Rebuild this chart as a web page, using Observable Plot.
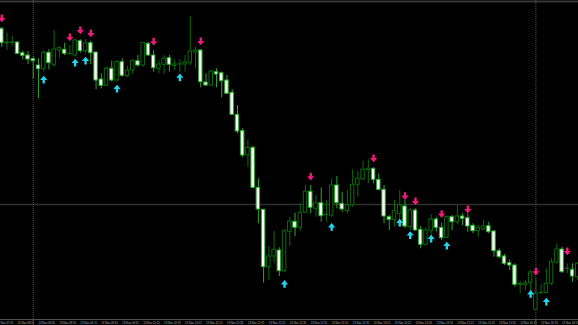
<!DOCTYPE html>
<html>
<head>
<meta charset="utf-8">
<script src="https://cdn.jsdelivr.net/npm/d3@7"></script>
<script src="https://cdn.jsdelivr.net/npm/@observablehq/plot@0.6"></script>
<style>
  html, body { margin: 0; padding: 0; background: #000; overflow: hidden; }
  #chart svg { display: block; }
</style>
</head>
<body>
<div id="chart"></div>
<script>
// OHLC per bar (price units, arbitrary scale)
const open  = [301.7,287,287.5,288,277.3,275,271.3,265,261.7,277.7,265.7,280,280.7,276.5,275,289.3,279.3,287.3,278,251,244.7,261.7,250,268.3,254.3,260,269.3,265,286.7,275,261.7,265.7,272.3,264.3,266,266,267.3,278,280,248,245,258.3,257.3,250,237.7,215.7,199.3,175,182.7,142.7,120.7,63.3,74,80,59.3,98.7,108.7,102.7,117.7,138.7,121.7,127.3,115.5,115,145,126.7,119.3,125,145.7,151,160,161.7,150.7,140.7,113.3,110.7,116.7,124,103.3,120,100.7,85.7,99.3,111,102.7,92.7,113.3,108.3,114,112.3,104.7,99.3,101,104.3,99,79.3,74,67.3,65,45.7,45.3,47.3,20.7,37.3,37.3,46.7,67.7,81,61.5,60.7,53.3];
const high  = [303,297.3,294,288.5,279.3,279,273.3,271.7,280,280.7,300,284,287.3,285,291.7,290.7,290.7,289.3,278.3,256.7,263.3,269.3,270,271.7,264,270.7,275,288,288,280,270,275,275,270.7,270.7,275,314,283.3,280.7,256.7,260,261.7,258.3,255,240.7,225,201.7,190.7,184,151.7,121,84,99.3,82.7,100.7,113.3,117.3,126.7,145,145,135,142.7,130,151.7,154,138.3,140,160.7,159.3,169.3,170.7,162.7,156.7,145,115,130,140,130,122,121.7,104,102.7,116,113.3,107.3,114.7,115,125,116.7,116.7,106.7,105,110,108.3,100,81.7,76,70.7,66.7,49.3,50,60,51.7,46,61.7,71.7,86.7,83.3,66.7,66.7,68];
const low   = [283,280,284.3,276,270.7,266,251.3,231.7,258.3,260.7,263.3,272.3,275,275,274,277.3,276.7,266,240.7,241.7,244,248.3,248.3,253.3,252.7,256,263.3,263.3,274,258.3,256.7,256,258.3,260,258.3,258.3,265,261.7,242.7,244,244,242.7,232.7,236.3,215,196.7,172.7,163.3,141.7,106.7,47.3,50,66.7,54,58.3,84,94,99.3,116.7,116.7,113.3,108.3,108.3,113.3,121.7,118.3,116.7,123.3,133.3,150,146.7,146.7,140,106.7,100,103.3,108.3,101.7,100,99.3,81.7,85,92.7,98.3,90,92,100,106,105,98.3,96.7,93.3,100,96.7,73.3,71.7,65,60,43.3,36.7,40,36.7,20.7,36.7,36.7,45,66.7,57.3,56.7,48.3,50];
const close = [287.3,288,288,276.7,274.7,271,269.3,261.3,277.7,267.3,281,282.3,276.7,276.7,290,279.3,287.3,277.3,250,244.7,261.7,250,268.3,254.7,260,269.3,265,287.3,275,262.3,266,271.7,265.7,266,266.2,268,279,280,248.3,245,259,256,249.3,236.7,215.7,199,175,182.7,142.7,121,63.3,74,80.7,59.3,99.3,109,102.7,117.7,138.7,122.7,127.3,114.3,115.7,145,127.3,121,125,145.7,151.7,160.7,161.7,150.7,140.7,114,110.7,119.3,125,104,120,100,85.7,100,111,102.7,92.3,113.3,108.3,114,111.7,104,99.3,102.7,104,98.3,79.3,73.3,66.7,65,45.7,46.7,47.3,58,36.7,37.7,46.7,68.3,81,58.3,61.7,54,66.7];

// signal arrows: bar index and price level
const downIdx = [0,13,15,17,29,38,59,71,77,79,84,89,102,108];
const downVal = [312,293,300,297,288.7,289,153.7,172,134.3,129,116.3,121,58.7,79];
const upIdx   = [8,14,16,22,34,54,63,76,78,82,85,101,104];
const upVal   = [251,268,270,242,253.3,46.7,103.7,108,95.5,92,85,36.7,29];

// time axis labels (bar index where each label starts; first one is the partly hidden label at the left edge)
const tickIdx = [-0.25,3,7,11,15,19,23,27,31,35,39,43,47,51,55,59,63,67,71,75,79,83,87,91,95,99,103,107];
const tickLabels = ["Nov 07:55","13 Nov 08:15","13 Nov 08:35","13 Nov 08:55","13 Nov 09:15","13 Nov 09:35","13 Nov 09:55","13 Nov 10:15","13 Nov 10:35","13 Nov 10:55","13 Nov 11:15","13 Nov 11:35","13 Nov 11:55","13 Nov 12:15","13 Nov 12:35","13 Nov 12:55","13 Nov 13:15","13 Nov 13:35","13 Nov 13:55","13 Nov 14:15","13 Nov 14:35","13 Nov 14:55","13 Nov 15:15","13 Nov 15:35","13 Nov 15:55","13 Nov 16:15","13 Nov 16:35","13 Nov 16:55"];

// reference lines
const gridBars = [6, 102];
const gridLevel = [126];

const candles = open.map((o, i) => ({i, o, h: high[i], l: low[i], c: close[i], up: close[i] > open[i]}));
const downs = downIdx.map((i, k) => ({i, v: downVal[k]}));
const ups = upIdx.map((i, k) => ({i, v: upVal[k]}));
const ticks = tickIdx.map((i, k) => ({i, t: tickLabels[k]}));

const bullCol = "#0b6b0b";
const bearCol = "#2aa82a";
const pink = "#f0197c";
const cyan = "#22d4ee";

const arrowDown = {draw(ctx) {
  ctx.moveTo(-1.2, -4); ctx.lineTo(1.2, -4); ctx.lineTo(1.2, -0.6);
  ctx.lineTo(3.6, -0.6); ctx.lineTo(0, 3.8); ctx.lineTo(-3.6, -0.6);
  ctx.lineTo(-1.2, -0.6); ctx.closePath();
}};
const arrowUp = {draw(ctx) {
  ctx.moveTo(-1.2, 4); ctx.lineTo(1.2, 4); ctx.lineTo(1.2, 0.6);
  ctx.lineTo(3.6, 0.6); ctx.lineTo(0, -3.8); ctx.lineTo(-3.6, 0.6);
  ctx.lineTo(-1.2, 0.6); ctx.closePath();
}};

const hw = 0.33;
const chart = Plot.plot({
  width: 578,
  height: 325,
  margin: 0,
  style: {background: "#000"},
  x: {type: "linear", domain: [-0.25, 110.14], axis: null},
  y: {type: "linear", domain: [5, 330], axis: null},
  marks: [
    Plot.ruleY([329], {y: d => d, stroke: "#363636", strokeWidth: 2}),
    Plot.ruleY(gridLevel, {y: d => d, stroke: "#303030", strokeWidth: 1.5}),
    Plot.ruleX(gridBars, {x: d => d, stroke: "#555", strokeDasharray: "1,1", strokeWidth: 1}),
    Plot.ruleY([11], {y: d => d, stroke: "#505050", strokeWidth: 1}),
    Plot.ruleX(candles, {x: "i", y1: "l", y2: "h", stroke: d => d.up ? bullCol : bearCol, strokeWidth: 1}),
    Plot.rect(candles, {
      x1: d => d.i - hw, x2: d => d.i + hw,
      y1: d => Math.min(d.o, d.c), y2: d => Math.max(d.o, d.c),
      fill: d => d.up ? "#000" : "#fff",
      stroke: d => d.up ? bullCol : bearCol, strokeWidth: 1
    }),
    Plot.dot(downs, {x: "i", y: "v", symbol: arrowDown, fill: pink, stroke: "none", r: 4}),
    Plot.dot(ups, {x: "i", y: "v", symbol: arrowUp, fill: cyan, stroke: "none", r: 4}),
    Plot.text(ticks, {x: "i", text: "t", frameAnchor: "bottom", textAnchor: "start", lineAnchor: "bottom", dy: -1.5, fontSize: 2.8, fill: "#b0b0b0", fontFamily: "Liberation Sans, Arial, sans-serif"})
  ]
});
document.getElementById("chart").appendChild(chart);
</script>
</body>
</html>
